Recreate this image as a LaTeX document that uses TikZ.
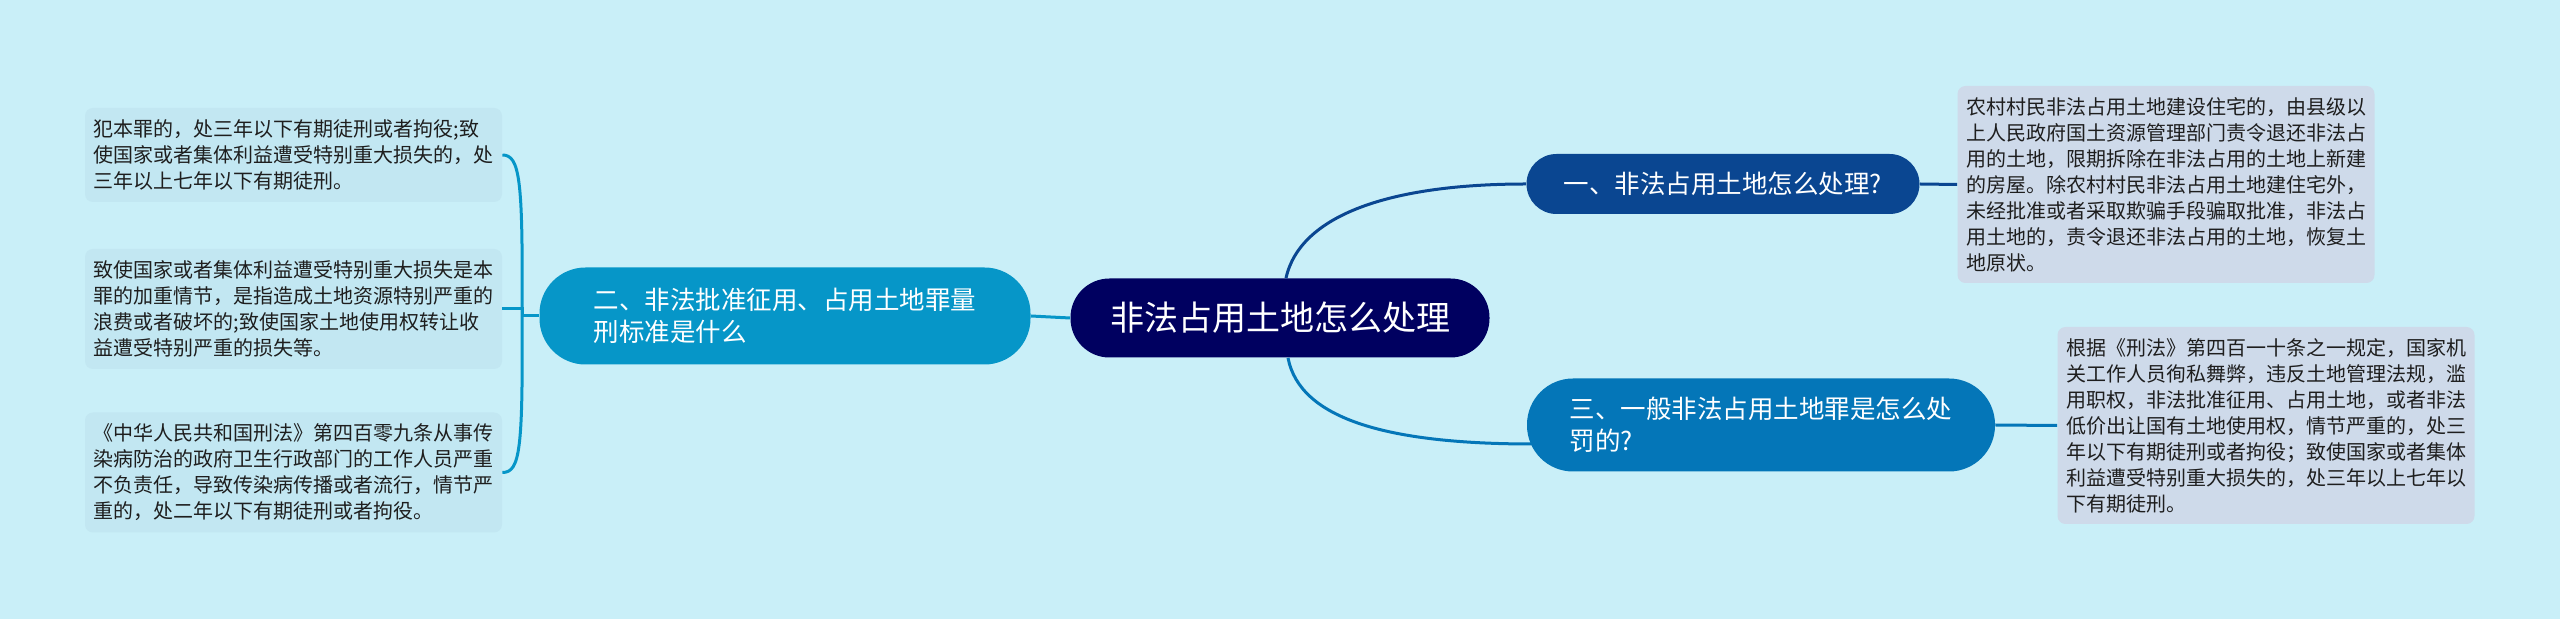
\documentclass[tikz,border=0pt]{standalone}
\usepackage{fontspec}
\setmainfont{Noto Sans CJK SC}
\definecolor{bgc}{RGB}{201,239,248}
\definecolor{ctrc}{RGB}{0,0,96}
\definecolor{onec}{RGB}{10,70,145}
\definecolor{twoc}{RGB}{6,150,200}
\definecolor{threec}{RGB}{4,118,184}
\definecolor{rleafc}{RGB}{206,218,234}
\definecolor{lleafc}{RGB}{194,231,242}
\definecolor{leaftext}{RGB}{30,30,30}
\begin{document}
\begin{tikzpicture}[x=0.5pt,y=-0.5pt,
  leaf/.style={fill=#1, rounded corners=4pt, align=left, inner sep=0pt, minimum width=208.5pt, text=leaftext, font=\fontsize{10}{13}\selectfont},
  branch/.style={fill=#1, text=white, align=left, inner sep=0pt, font=\fontsize{12.75}{16}\selectfont},
  link/.style={draw=#1, line width=1.5pt}]
\fill[bgc] (0,0) rectangle (2560,619);
\useasboundingbox (0,0) rectangle (2560,619);
\node[fill=ctrc, text=white, rounded corners=19.5pt, minimum width=209.5pt, minimum height=39.5pt, font=\fontsize{17}{20}\selectfont] (ctr) at (1280,318) {非法占用土地怎么处理};
\node[branch=onec, rounded corners=15pt, minimum width=196.5pt, minimum height=30pt] (b1) at (1723,184) {一、非法占用土地怎么处理?};
\node[branch=twoc, rounded corners=23pt, minimum width=245.5pt, minimum height=48.5pt] (b2) at (785,316) {二、非法批准征用、占用土地罪量\\刑标准是什么};
\node[branch=threec, rounded corners=23pt, minimum width=234pt, minimum height=46.5pt] (b3) at (1761,425) {三、一般非法占用土地罪是怎么处\\罚的?};
\node[leaf=rleafc, minimum height=98.5pt] (r1) at (2166,184.5) {农村村民非法占用土地建设住宅的，由县级以\\上人民政府国土资源管理部门责令退还非法占\\用的土地，限期拆除在非法占用的土地上新建\\的房屋。除农村村民非法占用土地建住宅外，\\未经批准或者采取欺骗手段骗取批准，非法占\\用土地的，责令退还非法占用的土地，恢复土\\地原状。};
\node[leaf=rleafc, minimum height=98.5pt] (r2) at (2266,425.5) {根据《刑法》第四百一十条之一规定，国家机\\关工作人员徇私舞弊，违反土地管理法规，滥\\用职权，非法批准征用、占用土地，或者非法\\低价出让国有土地使用权，情节严重的，处三\\年以下有期徒刑或者拘役；致使国家或者集体\\利益遭受特别重大损失的，处三年以上七年以\\下有期徒刑。};
\node[leaf=lleafc, minimum height=47pt] (l1) at (293.5,155) {犯本罪的，处三年以下有期徒刑或者拘役;致\\使国家或者集体利益遭受特别重大损失的，处\\三年以上七年以下有期徒刑。};
\node[leaf=lleafc, minimum height=60pt] (l2) at (293.5,309) {致使国家或者集体利益遭受特别重大损失是本\\罪的加重情节，是指造成土地资源特别严重的\\浪费或者破坏的;致使国家土地使用权转让收\\益遭受特别严重的损失等。};
\node[leaf=lleafc, minimum height=60pt] (l3) at (293.5,472.5) {《中华人民共和国刑法》第四百零九条从事传\\染病防治的政府卫生行政部门的工作人员严重\\不负责任，导致传染病传播或者流行，情节严\\重的，处二年以下有期徒刑或者拘役。};
\draw[link=onec] ([xshift=3pt]ctr.north) .. controls (1300,215) and (1390,184) .. (b1.west);
\draw[link=onec] (b1.east) -- (r1.west);
\draw[link=threec] ([xshift=4pt]ctr.south) .. controls (1300,420) and (1390,444) .. ([xshift=3pt,yshift=-9.5pt]b3.west);
\draw[link=threec] (b3.east) -- (r2.west);
\draw[link=twoc] (ctr.west) -- (b2.east);
\coordinate (sp) at (522,316);
\draw[link=twoc] (b2.west) -- (sp);
\draw[link=twoc] (sp) .. controls (523,180) and (520,155) .. (l1.east);
\draw[link=twoc] (sp) |- (l2.east);
\draw[link=twoc] (sp) .. controls (523,450) and (520,472.5) .. (l3.east);
\end{tikzpicture}
\end{document}
